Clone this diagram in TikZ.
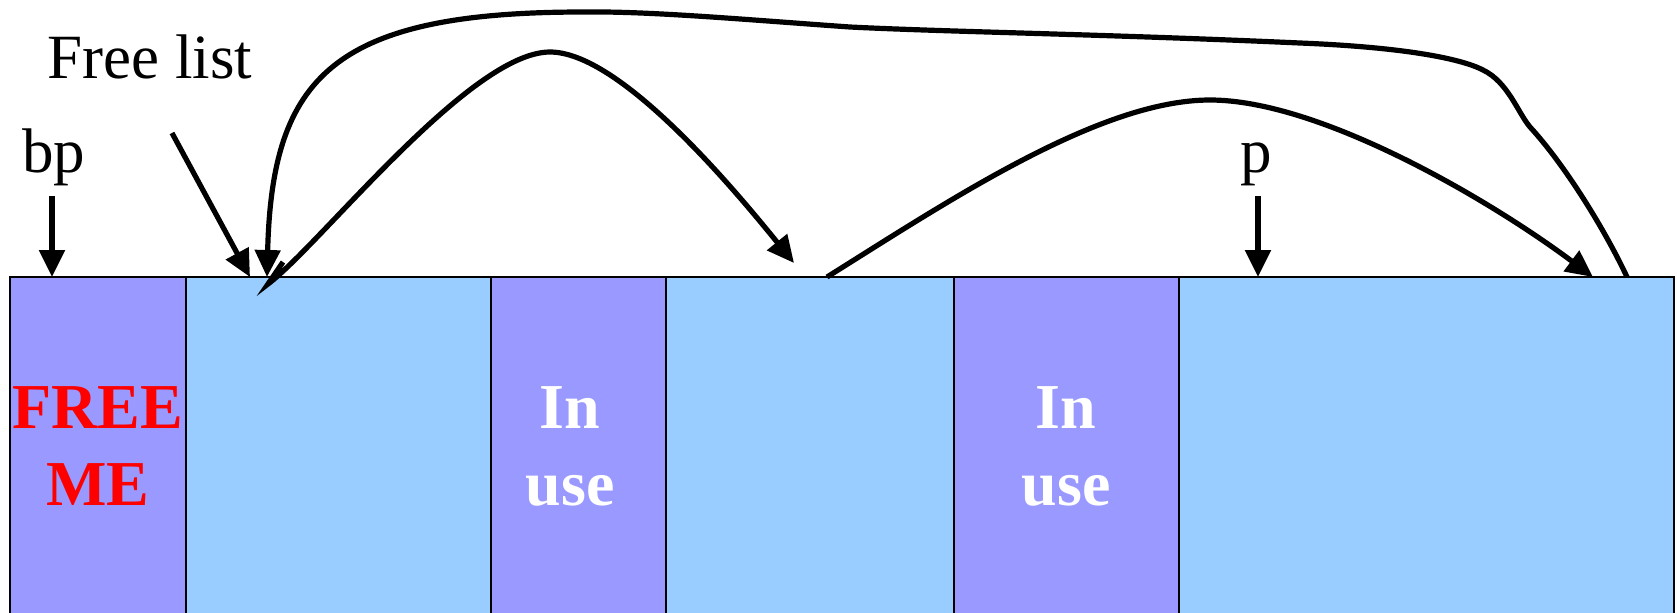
\documentclass[tikz,border=0pt]{standalone}
\usepackage{fontspec}
\setmainfont{Liberation Serif}
\usetikzlibrary{arrows.meta}
\definecolor{inuse}{HTML}{9999FF}
\definecolor{freeblk}{HTML}{99CCFF}
\begin{document}
\begin{tikzpicture}[x=0.5pt,y=-0.5pt,
  blk/.style={draw=black, line width=0.75pt, inner sep=0pt, outer sep=0pt, minimum height=169.5pt},
  used/.style={blk, fill=inuse},
  freeb/.style={blk, fill=freeblk},
  lbl/.style={font=\fontsize{31.5}{38}\selectfont, inner sep=5pt, anchor=base},
  blktxt/.style={font=\fontsize{32}{38.5}\selectfont\bfseries, align=center, inner sep=0pt},
  ptr/.style={line width=2.6pt, -{Triangle[length=13.5pt,width=12.5pt]}}]
\useasboundingbox (0,0) rectangle (1677,612);
% memory blocks
\node[used,  minimum width=88pt]    (b1) at (98,446.5)   {};
\node[freeb, minimum width=152.5pt] (b2) at (338.5,446.5) {};
\node[used,  minimum width=87.5pt]  (b3) at (578.5,446.5) {};
\node[freeb, minimum width=144pt]   (b4) at (810,446.5)  {};
\node[used,  minimum width=112.5pt] (b5) at (1066.5,446.5) {};
\node[freeb, minimum width=247.5pt] (b6) at (1426.5,446.5) {};
% block texts
\node[blktxt, text=red]   (t1) at (98,446.5)   {FREE\\ME};
\node[blktxt, text=white] (t3) at (570,446.5)  {In\\use};
\node[blktxt, text=white] (t5) at (1066,446.5) {In\\use};
% labels
\node[lbl] (fl) at (150,78)  {Free list};
\node[lbl] (bp) at (54,172)  {bp};
\node[lbl] (p)  at (1256,172) {p};
% pointer ends
\coordinate (bptip)   at (52,277);
\coordinate (ptip)    at (1258,277);
\coordinate (flstart) at (172,133);
\coordinate (fltip)   at (250,277);
\coordinate (aStart)  at (1627,277);
\coordinate (aTip)    at (267,277);
\coordinate (bStart)  at (283,262);
\coordinate (bTip)    at (794,263);
\coordinate (cStart)  at (827,277);
\coordinate (cTip)    at (1593,277);
% pointers
\draw[ptr] (bp.south -| bptip) -- (bptip);
\draw[ptr] (p.south -| ptip) -- (ptip);
\draw[ptr] (flstart) -- (fltip);
\draw[ptr] (aStart) .. controls (1605,230) and (1565,165) .. (1530,127)
  .. controls (1518,113) and (1508,82) .. (1483,70)
  .. controls (1460,58) and (1400,47) .. (1300,43)
  .. controls (1100,34) and (950,32) .. (850,27)
  .. controls (750,20) and (650,11) .. (583,12)
  .. controls (333,12) and (272,77) .. (aTip);
\draw[ptr] (bStart) -- (268,284) .. controls (320,245) and (470,52) .. (550,52)
  .. controls (620,52) and (734,189) .. (bTip);
\draw[ptr] (cStart) .. controls (950,200) and (1100,100) .. (1210,100)
  .. controls (1320,100) and (1490,200) .. (cTip);
\end{tikzpicture}
\end{document}
